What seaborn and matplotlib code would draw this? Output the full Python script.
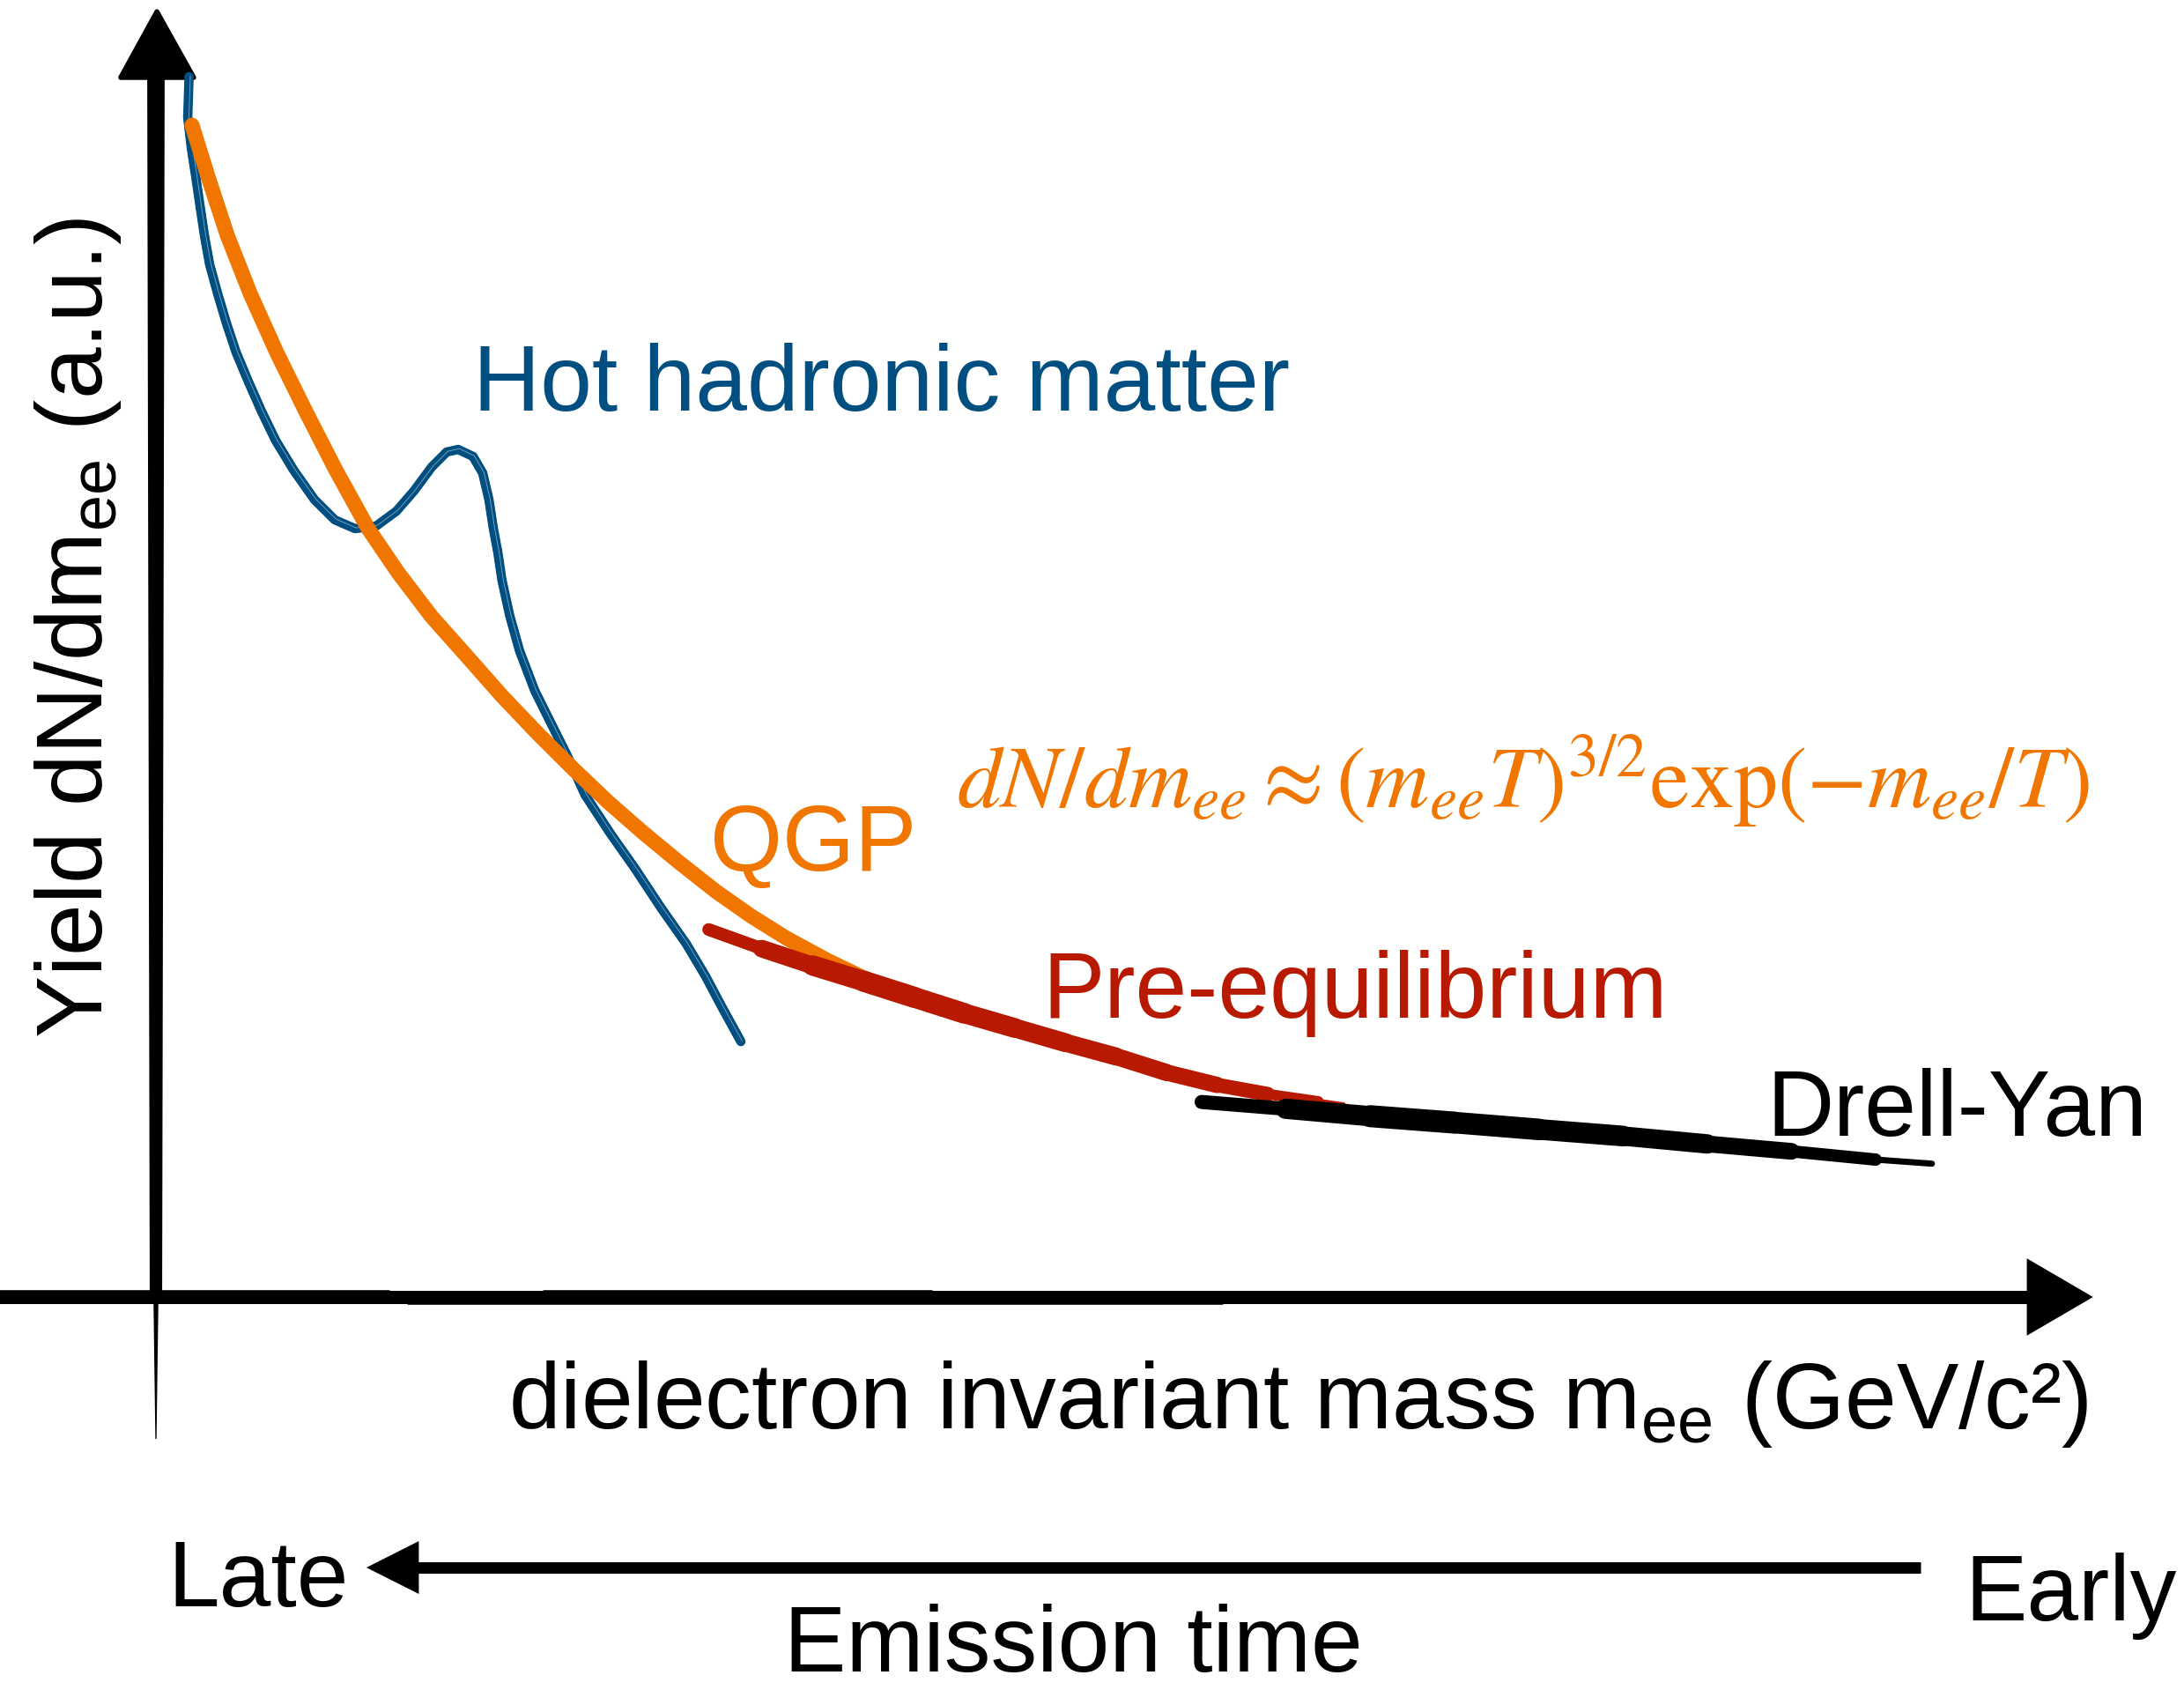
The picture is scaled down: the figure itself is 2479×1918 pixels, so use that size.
import numpy as np
import pandas as pd
import matplotlib
matplotlib.use("Agg")
import matplotlib.pyplot as plt
import matplotlib.transforms as mtransforms
from matplotlib.collections import LineCollection
from matplotlib.patches import Polygon
import seaborn as sns

# ---------------- data (schematic, arbitrary units) ----------------
# QGP thermal spectrum (orange)
qgp_mass = [0.186, 0.268, 0.368, 0.486, 0.623, 0.773, 0.927, 1.095, 1.250, 1.423,
            1.605, 1.786, 1.968, 2.150, 2.332, 2.514, 2.695, 2.891, 3.073, 3.255,
            3.464, 3.673]
qgp_yield = [9.500, 9.086, 8.607, 8.136, 7.657, 7.179, 6.707, 6.229, 5.871, 5.514,
             5.193, 4.871, 4.571, 4.286, 4.014, 3.764, 3.529, 3.286, 3.086, 2.907,
             2.729, 2.571]

# Hot hadronic matter (blue) with the resonance bump
hhm_mass = [0.171, 0.164, 0.182, 0.205, 0.227, 0.250, 0.277, 0.318, 0.364, 0.414,
            0.477, 0.545, 0.618, 0.709, 0.818, 0.923, 1.027, 1.136, 1.241, 1.332,
            1.423, 1.500, 1.559, 1.636, 1.686, 1.718, 1.741, 1.764, 1.785, 1.825,
            1.876, 1.955, 2.032, 2.123, 2.214, 2.345, 2.473, 2.605, 2.736, 2.836,
            2.918, 3.018]
hhm_yield = [9.894, 9.564, 9.321, 9.086, 8.850, 8.607, 8.371, 8.136, 7.893, 7.657,
             7.421, 7.179, 6.943, 6.707, 6.464, 6.300, 6.229, 6.250, 6.371, 6.536,
             6.729, 6.850, 6.871, 6.814, 6.679, 6.464, 6.229, 6.036, 5.813, 5.526,
             5.239, 4.914, 4.671, 4.386, 4.071, 3.757, 3.471, 3.157, 2.864, 2.600,
             2.357, 2.071]

# Pre-equilibrium (dark red)
pre_mass = [2.852, 3.126, 3.387, 3.648, 3.909, 4.170, 4.431, 4.692, 4.953, 5.214,
            5.475, 5.736, 5.997, 6.127]
pre_yield = [2.979, 2.824, 2.688, 2.562, 2.431, 2.300, 2.181, 2.062, 1.950, 1.820,
             1.719, 1.645, 1.586, 1.557]

# Drell-Yan (black)
dy_mass = [5.395, 5.829, 6.264, 6.699, 7.134, 7.569, 8.004, 8.438, 8.873, 9.163]
dy_yield = [1.581, 1.526, 1.466, 1.414, 1.359, 1.305, 1.241, 1.181, 1.114, 1.081]

# ---------------- style ----------------
BLUE = "#004f80"
ORANGE = "#f07600"
RED = "#b71a00"
BLACK = "#000000"
DPI = 200
PT = 72.0 / DPI  # points per pixel

pre_width_px = [11, 18, 22, 24, 24, 23, 22, 21, 20, 19, 18, 15, 9, 3]
dy_width_px = [11, 21, 25, 25, 24, 23, 21, 17, 11, 3]

sns.set_style("white")
plt.rcParams["font.family"] = ["Liberation Sans", "DejaVu Sans"]
plt.rcParams["mathtext.fontset"] = "custom"
plt.rcParams["mathtext.rm"] = "Liberation Sans"
plt.rcParams["mathtext.it"] = "Liberation Sans:italic"
plt.rcParams["mathtext.bf"] = "Liberation Sans:bold"

W, H = 2479, 1918
fig = plt.figure(figsize=(W / DPI, H / DPI), dpi=DPI)
fig.patch.set_facecolor("white")
ax = fig.add_axes([0, 0, 1, 1])
ax.set_xlim(-0.80455, 10.4636)
ax.set_ylim(-3.1857, 10.5143)
ax.axis("off")

# ---------------- hand-drawn axes ----------------
ax.add_patch(Polygon([(-0.045, 9.90), (0.045, 9.90), (0.032, 0.0), (-0.032, 0.0)],
                     closed=True, color=BLACK, lw=0, zorder=3))
ax.add_patch(Polygon([(-0.013, 0.0), (0.013, 0.0), (0.003, -1.15), (-0.003, -1.15)],
                     closed=True, color=BLACK, lw=0, zorder=3))
ax.add_patch(Polygon([(0.005, 10.42), (0.195, 9.886), (-0.182, 9.886)],
                     closed=True, color=BLACK, lw=2, joinstyle="round", zorder=3))
ax.plot([-0.81, 9.70], [0.0, 0.0], color=BLACK, lw=15 * PT, solid_capstyle="butt", zorder=3)
for dy_off, x0, x1 in [(0.05, -0.81, 1.2), (-0.05, 1.3, 5.5), (0.045, 5.8, 9.5),
                       (-0.045, 6.5, 9.6), (0.05, 2.0, 4.0)]:
    ax.plot([x0, x1], [dy_off, dy_off], color=BLACK, lw=3 * PT, alpha=0.8, zorder=3)
ax.add_patch(Polygon([(9.982, 0.0), (9.659, 0.296), (9.659, -0.296)],
                     closed=True, color=BLACK, lw=1, zorder=3))
ax.plot([1.33, 9.105], [-2.193, -2.193], color=BLACK, lw=13 * PT, solid_capstyle="butt", zorder=3)
ax.add_patch(Polygon([(1.10, -2.193), (1.35, -1.995), (1.35, -2.391)],
                     closed=True, color=BLACK, lw=1, zorder=3))

# ---------------- curves ----------------
hhm = pd.DataFrame({"mass": hhm_mass, "yield": hhm_yield})
qgp = pd.DataFrame({"mass": qgp_mass, "yield": qgp_yield})

sns.lineplot(data=hhm, x="mass", y="yield", sort=False, estimator=None, color=BLUE,
             linewidth=3.8, solid_capstyle="round", solid_joinstyle="round", ax=ax, zorder=4)
for off in (-1.3, 1.3):
    tr = mtransforms.offset_copy(ax.transData, fig=fig, x=off, y=off * 0.5, units="points")
    ax.plot(hhm["mass"], hhm["yield"], color=BLUE, lw=0.7, alpha=0.85, transform=tr, zorder=4)
tr_w = mtransforms.offset_copy(ax.transData, fig=fig, x=0.5, y=0.3, units="points")
ax.plot(hhm["mass"], hhm["yield"], color="white", lw=0.3, alpha=0.5, transform=tr_w, zorder=4)

sns.lineplot(data=qgp, x="mass", y="yield", sort=False, estimator=None, color=ORANGE,
             linewidth=17 * PT, solid_capstyle="round", solid_joinstyle="round", ax=ax, zorder=5)


def brush(xs, ys, widths_px, color, z):
    pts = np.column_stack([xs, ys])
    segs = np.stack([pts[:-1], pts[1:]], axis=1)
    w = np.asarray(widths_px, float)
    lc = LineCollection(segs, linewidths=(w[:-1] + w[1:]) / 2 * PT, colors=color,
                        capstyle="round", joinstyle="round", zorder=z)
    ax.add_collection(lc)


brush(pre_mass, pre_yield, pre_width_px, RED, 6)
brush(dy_mass, dy_yield, dy_width_px, BLACK, 7)

ax.set_xlabel("")
ax.set_ylabel("")

# ---------------- texts ----------------
FS = 38


def px_text(x, y, s, **kw):
    fig.text(x / W, 1 - y / H, s, ha=kw.pop("ha", "left"), va=kw.pop("va", "baseline"), **kw)


px_text(537, 466, "Hot hadronic matter", color=BLUE, fontsize=FS)
px_text(806, 988, "QGP", color=ORANGE, fontsize=FS)
px_text(1086, 917, r"$dN/dm_{ee} \approx (m_{ee}T)^{3/2}\exp(-m_{ee}/T)$",
        color=ORANGE, fontsize=36, math_fontfamily="stix")
px_text(1183, 1155, "Pre-equilibrium", color=RED, fontsize=FS)
px_text(2005, 1289, "Drell-Yan", color=BLACK, fontsize=FS)
px_text(577, 1621, r"dielectron invariant mass m$_\mathrm{ee}$ (GeV/c²)", color=BLACK, fontsize=FS)
px_text(190, 1823, "Late", color=BLACK, fontsize=FS)
px_text(2230, 1839, "Early", color=BLACK, fontsize=FS)
px_text(890, 1897, "Emission time", color=BLACK, fontsize=FS)
px_text(116, 1178, r"Yield dN/dm$_\mathrm{ee}$ (a.u.)", color=BLACK, fontsize=FS,
        rotation=90, rotation_mode="anchor")

fig.savefig("out.png", dpi=DPI, facecolor="white")
